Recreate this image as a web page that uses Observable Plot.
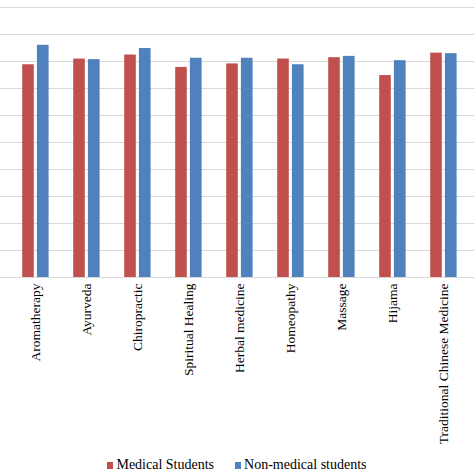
<!DOCTYPE html>
<html>
<head>
<meta charset="utf-8">
<script src="https://cdn.jsdelivr.net/npm/d3@7"></script>
<script src="https://cdn.jsdelivr.net/npm/@observablehq/plot@0.6"></script>
<style>
  html, body { margin: 0; padding: 0; background: #fff; overflow: hidden; }
  #wrap { position: relative; width: 474px; height: 474px; }
  #legend {
    position: absolute; left: 0; top: 457px; width: 474px;
    display: flex; justify-content: center; gap: 21px;
    font-family: "Liberation Serif", "DejaVu Serif", serif;
    font-size: 14px; line-height: 16px; color: #000;
  }
  #legend .item { display: flex; align-items: center; gap: 3px; }
  #legend .sw { width: 6px; height: 7px; display: inline-block; }
  #chart svg text { font-family: "Liberation Serif", "DejaVu Serif", serif; }
</style>
</head>
<body>
<div id="wrap">
  <div id="chart"></div>
  <div id="legend"></div>
</div>
<script>
  const categories = [
    "Aromatherapy", "Ayurveda", "Chiropractic", "Spiritual Healing",
    "Herbal medicine", "Homeopathy", "Massage", "Hijama",
    "Traditional Chinese Medicine"
  ];
  const medical    = [78.8, 80.9, 82.4, 77.8, 79.1, 80.9, 81.4, 74.8, 83.1];
  const nonMedical = [86.0, 80.7, 84.8, 81.2, 81.2, 78.8, 81.9, 80.3, 82.9];
  const yTicks = [0, 10, 20, 30, 40, 50, 60, 70, 80, 90, 100];
  const seriesNames = ["Medical Students", "Non-medical students"];
  const colors = ["#c0504d", "#4f81bd"];

  const medRows = categories.map((c, i) => ({ category: c, value: medical[i] }));
  const nonRows = categories.map((c, i) => ({ category: c, value: nonMedical[i] }));

  const chart = Plot.plot({
    width: 474,
    height: 455,
    marginLeft: 0,
    marginRight: 0,
    marginTop: 7,
    marginBottom: 178,
    style: {
      background: "#fff",
      color: "#000",
      fontFamily: "'Liberation Serif', 'DejaVu Serif', serif",
      fontSize: "13.5px",
      overflow: "visible"
    },
    x: {
      type: "band",
      domain: categories,
      padding: 0,
      insetLeft: 10,
      insetRight: 4.5,
      tickSize: 0,
      tickPadding: 6,
      tickRotate: -90,
      label: null
    },
    y: { domain: [0, 100], axis: null },
    marks: [
      Plot.ruleY(yTicks, { stroke: "#d9d9d9", strokeWidth: 1 }),
      Plot.barY(medRows, {
        x: "category", y: "value", fill: colors[0],
        insetLeft: 12.2, insetRight: 27.2
      }),
      Plot.barY(nonRows, {
        x: "category", y: "value", fill: colors[1],
        insetLeft: 26.9, insetRight: 12.4
      })
    ]
  });
  document.getElementById("chart").appendChild(chart);

  const legend = document.getElementById("legend");
  seriesNames.forEach((name, i) => {
    const item = document.createElement("span");
    item.className = "item";
    const sw = document.createElement("span");
    sw.className = "sw";
    sw.style.background = colors[i];
    const label = document.createElement("span");
    label.textContent = name;
    item.appendChild(sw);
    item.appendChild(label);
    legend.appendChild(item);
  });
</script>
</body>
</html>
